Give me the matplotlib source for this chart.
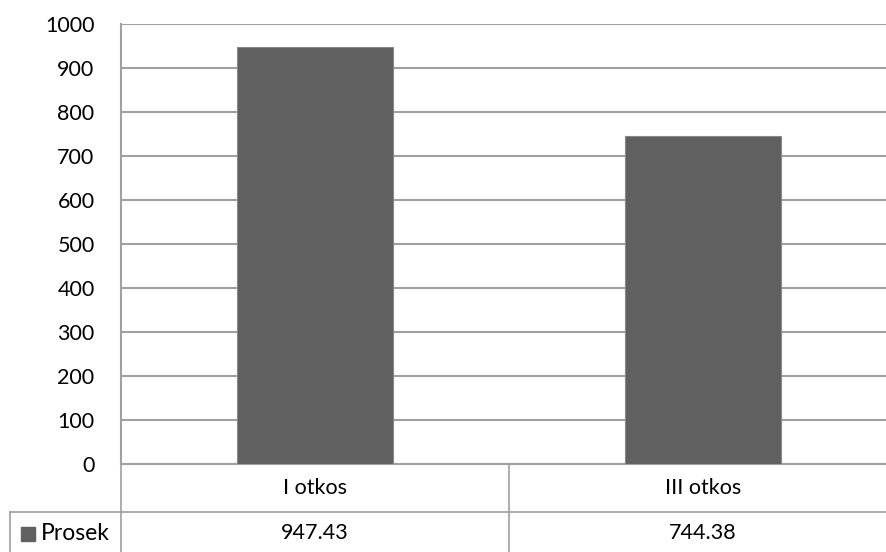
import matplotlib.pyplot as plt
from matplotlib.transforms import blended_transform_factory
from matplotlib.patches import Rectangle

categories = ['I otkos', 'III otkos']
values = [947.43, 744.38]
series_name = 'Prosek'
y_ticks = [0, 100, 200, 300, 400, 500, 600, 700, 800, 900, 1000]

plt.rcParams['font.family'] = ['Lato', 'DejaVu Sans']
W, H = 886, 552
fig = plt.figure(figsize=(W / 100, H / 100), dpi=100)
# plot area runs a little past the right edge of the picture
ax = fig.add_axes([121 / W, (H - 464) / H, (897 - 121) / W, (464 - 24) / H])

bar_color = '#606060'
line_color = '#a0a0a0'
fs = 15.5

x = list(range(len(categories)))
ax.bar(x, values, width=0.40, color=bar_color, edgecolor='#888888', linewidth=0.8, zorder=3)

ax.set_xlim(-0.5, len(categories) - 0.5)
ax.set_ylim(0, 1000)
ax.set_yticks(y_ticks)
ax.set_yticklabels([str(t) for t in y_ticks], fontsize=fs)
ax.set_xticks([])
ax.tick_params(axis='y', length=0, pad=19)
for s in ['top', 'right']:
    ax.spines[s].set_visible(False)
for s in ['left', 'bottom']:
    ax.spines[s].set_color(line_color)
    ax.spines[s].set_linewidth(1.5)
ax.grid(axis='y', color=line_color, linewidth=1.5, zorder=0)

# data table below the plot
tr = blended_transform_factory(ax.transData, ax.transAxes)
px = 1 / 440.0
row1 = -48 * px
row2 = -92 * px
fig_tr = blended_transform_factory(fig.transFigure, ax.transAxes)
lw = 1.2
for i in range(len(categories)):
    ax.plot([i - 0.5, i - 0.5], [0, row2], color=line_color, lw=lw, transform=tr, clip_on=False)
ax.plot([10 / W, 10 / W], [row1, row2], color=line_color, lw=lw, transform=fig_tr, clip_on=False)
ax.plot([10 / W, 1.0], [row1, row1], color=line_color, lw=lw, transform=fig_tr, clip_on=False)

for i, (c, v) in enumerate(zip(categories, values)):
    ax.text(i, -24 * px, c, ha='center', va='center', fontsize=fs, transform=tr, clip_on=False)
    ax.text(i, -69 * px, f'{v:.2f}', ha='center', va='center', fontsize=fs,
            transform=tr, clip_on=False)

fig.patches.append(Rectangle((21 / W, (H - 541) / H), 14 / W, 14 / H, transform=fig.transFigure,
                             color=bar_color))
fig.text(41 / W, (H - 533) / H, series_name, ha='left', va='center', fontsize=fs + 1)

fig.savefig('out.png', dpi=100)
